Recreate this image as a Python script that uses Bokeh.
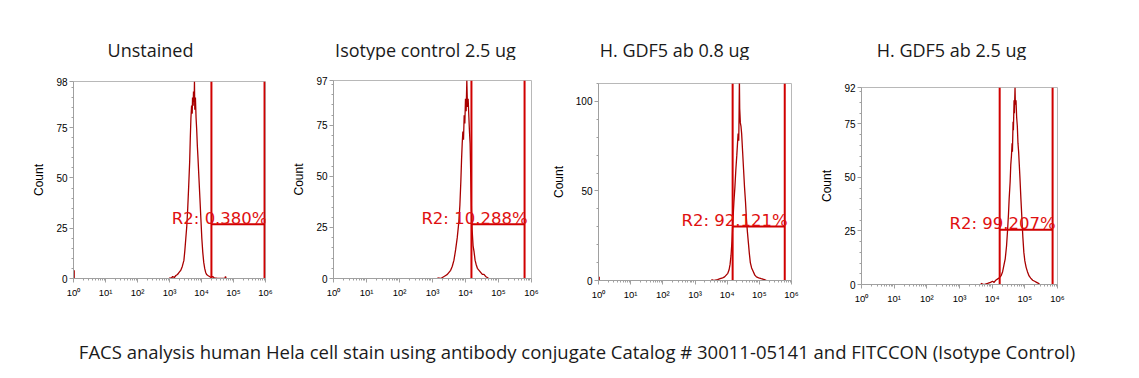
import numpy as np
from bokeh.plotting import figure
from bokeh.models import Range1d, FixedTicker, Spacer
from bokeh.layouts import row, column
from bokeh.embed import file_html
from bokeh.resources import INLINE
from bokeh.core.properties import value

# ---------------- data ----------------
panel_titles = ["Unstained", "Isotype control 2.5 ug", "H. GDF5 ab 0.8 ug", "H. GDF5 ab 2.5 ug"]
caption = "FACS analysis human Hela cell stain using antibody conjugate Catalog # 30011-05141 and FITCCON (Isotype Control)"
x_decades = [0, 1, 2, 3, 4, 5, 6]
x_tick_labels = ["10\u2070", "10\u00b9", "10\u00b2", "10\u00b3", "10\u2074", "10\u2075", "10\u2076"]

# histogram: log10(fluorescence) and counts
unstained_logx = [3.00, 3.05, 3.10, 3.15, 3.20, 3.25, 3.30, 3.35, 3.40, 3.45, 3.48, 3.51, 3.54, 3.57,
                  3.60, 3.63, 3.65, 3.67, 3.69, 3.71, 3.72, 3.74, 3.75, 3.77, 3.78, 3.79, 3.81, 3.83,
                  3.85, 3.87, 3.89, 3.92, 3.95, 3.98, 4.01, 4.04, 4.07, 4.10, 4.13, 4.16, 4.20, 4.25,
                  4.30, 4.35, 4.40, 4.50, 4.73, 4.75, 4.77]
unstained_count = [0.5, 0, 1, 0.5, 1.5, 2, 3, 4, 6, 9, 14, 20, 26, 35,
                   46, 58, 70, 80, 86, 82, 90, 86, 93, 88, 98, 84, 90, 80,
                   74, 66, 60, 50, 40, 30, 20, 13, 8, 5, 3, 2, 1.5, 1,
                   0.5, 1, 0.3, 0, 0, 1, 0]

isotype_logx = [3.15, 3.25, 3.35, 3.40, 3.45, 3.50, 3.55, 3.60, 3.65, 3.70, 3.75, 3.80, 3.83, 3.86,
                3.88, 3.90, 3.92, 3.94, 3.96, 3.98, 4.00, 4.02, 4.04, 4.06, 4.08, 4.10, 4.12, 4.14,
                4.16, 4.18, 4.20, 4.23, 4.26, 4.29, 4.32, 4.36, 4.41, 4.46, 4.51, 4.56, 4.61, 4.66, 4.70]
isotype_count = [0.3, 0, 1, 1.5, 2, 3, 4, 6, 9, 14, 20, 28, 36, 48,
                 58, 66, 72, 68, 80, 76, 88, 82, 97, 84, 88, 80, 72, 66,
                 50, 34, 24, 16, 13, 9, 7, 5, 4, 3, 2, 2, 1, 0.5, 0]

gdf5_08_logx = [3.51, 3.60, 3.70, 3.78, 3.86, 3.92, 3.97, 4.02, 4.06, 4.09, 4.12, 4.15, 4.18, 4.21,
                4.24, 4.27, 4.30, 4.32, 4.34, 4.36, 4.37, 4.38, 4.39, 4.41, 4.43, 4.45, 4.48, 4.51,
                4.54, 4.57, 4.60, 4.63, 4.66, 4.69, 4.72, 4.76, 4.81, 4.86, 4.91, 4.98, 5.06, 5.16, 5.22]
gdf5_08_count = [0.5, 0, 0.5, 1, 1.5, 2, 3, 4, 6, 9, 14, 22, 34, 44,
                 52, 62, 70, 76, 82, 78, 92, 112, 96, 88, 86, 82, 72, 62,
                 52, 44, 34, 27, 21, 15, 10, 7, 5, 3, 2, 1.5, 1, 0.5, 0]

gdf5_25_logx = [3.65, 3.75, 3.86, 3.95, 4.01, 4.06, 4.11, 4.16, 4.21, 4.27, 4.32, 4.36, 4.40, 4.44,
                4.47, 4.50, 4.52, 4.55, 4.57, 4.59, 4.61, 4.62, 4.64, 4.65, 4.67, 4.68, 4.70, 4.71,
                4.73, 4.75, 4.77, 4.79, 4.81, 4.83, 4.85, 4.88, 4.91, 4.94, 4.97, 5.00, 5.04, 5.08,
                5.13, 5.18, 5.24, 5.30, 5.36, 5.42, 5.46]
gdf5_25_count = [0.5, 0, 0.5, 1, 1.5, 1, 2, 2.5, 3, 4, 6, 9, 12, 18,
                 25, 33, 40, 48, 56, 60, 66, 62, 76, 72, 86, 80, 92, 84,
                 86, 78, 74, 66, 62, 56, 50, 40, 31, 22, 15, 11, 8, 6,
                 4, 3, 2, 1.5, 1, 0.5, 0]

hist_logx = [unstained_logx, isotype_logx, gdf5_08_logx, gdf5_25_logx]
hist_count = [unstained_count, isotype_count, gdf5_08_count, gdf5_25_count]
edge_count = [4, 0, 2, 0]           # events piled in the first channel

gate_left = [4.31, 4.18, 4.17, 4.23]
gate_right = [5.97, 5.79, 5.79, 5.85]
gate_level = [27.0, 26.6, 30.2, 25.6]
gate_pct = ["0.380%", "10.288%", "92.121%", "99.207%"]

y_max = [98, 97, 110, 92]
y_major = [[0, 25, 50, 75, 98], [0, 25, 50, 75, 97], [0, 50, 100], [0, 25, 50, 75, 92]]
y_minor_step = [5, 5, 10, 5]

# ---------------- layout (px) ----------------
page_w = 1131
header_h = 60
title_cx = [150, 425, 674, 951]
title_base = 49
fig_w = [285, 263, 267, 316]
drop = [1, 0, 3, 7]
fig_h = [249, 250, 247, 243]
b_left = [73, 48, 45, 46]
b_right = [20, 17, 24, 74]
b_top = 20
b_bottom = [32, 32, 30, 26]
cap_h = 62
cap_cx = 576.5
cap_base = 351 - 310

AX = "#a0a0a0"
HIST = "#a80000"
GATE = "#d00000"
LBL = "#e01010"
TXT = "#1a1a1a"

x_minor = [d + np.log10(k) for d in range(6) for k in range(2, 10)]


def blank(w, h):
    f = figure(width=w, height=h, x_range=Range1d(0, w), y_range=Range1d(0, h),
               output_backend="svg", toolbar_location=None, min_border=0,
               x_axis_location=None, y_axis_location=None)
    f.grid.visible = False
    f.outline_line_color = None
    return f


header = blank(page_w, header_h)
header.text(x=title_cx, y=[header_h - title_base] * 4, text=panel_titles,
            text_align="center", text_baseline="alphabetic",
            text_font=value("Open Sans"), text_font_size="18px", text_color=TXT)

cols = []
for i in range(4):
    p = figure(width=fig_w[i], height=fig_h[i],
               x_range=Range1d(0, 6), y_range=Range1d(0, y_max[i]),
               output_backend="svg", toolbar_location=None,
               min_border_left=b_left[i], min_border_right=b_right[i],
               min_border_top=b_top, min_border_bottom=b_bottom[i])
    p.grid.visible = False
    p.outline_line_color = "#b8b8b8"
    p.background_fill_color = "white"
    p.border_fill_color = "white"

    p.xaxis.ticker = FixedTicker(ticks=x_decades, minor_ticks=x_minor)
    p.xaxis.major_label_overrides = {d: lab for d, lab in zip(x_decades, x_tick_labels)}
    p.yaxis.ticker = FixedTicker(ticks=y_major[i],
                                 minor_ticks=list(range(0, y_max[i] + 1, y_minor_step[i])))
    for ax in (p.xaxis[0], p.yaxis[0]):
        ax.axis_line_color = AX
        ax.major_tick_line_color = AX
        ax.minor_tick_line_color = AX
        ax.major_tick_in = 0
        ax.major_tick_out = 4
        ax.minor_tick_in = 0
        ax.minor_tick_out = 2
        ax.major_label_text_font = "Liberation Sans"
        ax.major_label_text_color = "black"
    p.xaxis.major_label_text_font_size = "9.5px"
    p.yaxis.major_label_text_font_size = "10px"
    p.xaxis.major_label_standoff = 4
    p.yaxis.major_label_standoff = 2
    p.yaxis.axis_label = "Count"
    p.yaxis.axis_label_text_font = "Liberation Sans"
    p.yaxis.axis_label_text_font_size = "12px"
    p.yaxis.axis_label_text_font_style = "normal"
    p.yaxis.axis_label_text_color = "black"
    p.yaxis.axis_label_standoff = 7

    p.line(hist_logx[i], hist_count[i], line_color=HIST, line_width=1.3)
    if edge_count[i] > 0:
        p.vbar(x=[0.012], width=0.024, top=[edge_count[i]], color=HIST)

    p.segment(x0=[gate_left[i], gate_right[i]], y0=[0, 0],
              x1=[gate_left[i], gate_right[i]], y1=[y_max[i], y_max[i]],
              line_color=GATE, line_width=2)
    p.segment(x0=[gate_left[i]], y0=[gate_level[i]], x1=[gate_right[i]], y1=[gate_level[i]],
              line_color=GATE, line_width=2)
    p.text(x=[gate_right[i]], y=[gate_level[i]], text=["R2: " + gate_pct[i]],
           text_align="right", text_baseline="alphabetic", x_offset=3, y_offset=-6,
           text_color=LBL, text_font=value("DejaVu Sans"), text_font_size="16.5px")
    if drop[i] > 0:
        cols.append(column(Spacer(width=fig_w[i], height=drop[i]), p, spacing=0))
    else:
        cols.append(column(p, spacing=0))

cap = blank(page_w, cap_h)
cap.text(x=[cap_cx], y=[cap_h - cap_base], text=[caption], text_align="center",
         text_baseline="alphabetic", text_font=value("Open Sans"), text_font_size="18.5px",
         text_color=TXT)

layout = column(header, row(*cols, spacing=0), cap, spacing=0)
open("out.html", "w").write(file_html(layout, INLINE))
